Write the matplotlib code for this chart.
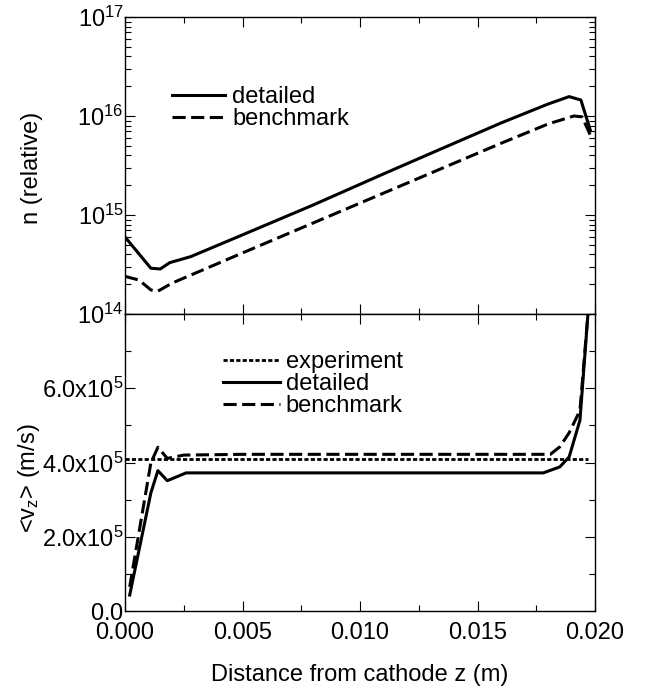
import matplotlib
matplotlib.use("Agg")
import matplotlib.pyplot as plt
from matplotlib.ticker import FixedLocator, NullFormatter, LogLocator, MultipleLocator

plt.rcParams['font.family'] = ['Liberation Sans', 'DejaVu Sans']
plt.rcParams['mathtext.fontset'] = 'custom'
plt.rcParams['mathtext.rm'] = 'Liberation Sans'
plt.rcParams['mathtext.it'] = 'Liberation Sans:italic'
plt.rcParams['mathtext.bf'] = 'Liberation Sans:bold'

# ---- top panel: density n (relative) ----
n_det_z = [0.0, 0.0011, 0.0015, 0.0019, 0.0028, 0.0050, 0.0080, 0.0110,
           0.0134, 0.0160, 0.0180, 0.0189, 0.0194, 0.0198]
n_det = [6.0e14, 2.9e14, 2.85e14, 3.3e14, 3.8e14, 6.3e14, 1.26e15, 2.6e15,
         4.6e15, 8.5e15, 1.32e16, 1.57e16, 1.45e16, 7.2e15]
n_bench_z = [0.0, 0.0006, 0.0011, 0.0014, 0.0020, 0.0048, 0.0134, 0.0160, 0.0180,
             0.0191, 0.01945, 0.01987]
n_bench = [2.4e14, 2.2e14, 1.75e14, 1.7e14, 2.05e14, 3.95e14, 2.9e15, 5.3e15, 8.3e15,
           1.0e16, 9.8e15, 5.9e15]

# ---- bottom panel: mean axial velocity <vz> ----
v_exp_z = [0.0, 0.0197]
v_exp = [4.1e5, 4.1e5]
v_det_z = [0.0002, 0.0011, 0.0014, 0.0018, 0.0026, 0.0050, 0.0100, 0.0150, 0.0178,
           0.0185, 0.0189, 0.01936, 0.0197]
v_det = [0.43e5, 3.18e5, 3.78e5, 3.51e5, 3.72e5, 3.72e5, 3.72e5, 3.72e5, 3.72e5,
         3.88e5, 4.15e5, 5.14e5, 8.0e5]
v_bench_z = [0.0002, 0.0011, 0.0014, 0.0018, 0.0025, 0.0050, 0.0100, 0.0150, 0.0181,
             0.0185, 0.0189, 0.01936, 0.0197]
v_bench = [0.65e5, 3.99e5, 4.41e5, 4.11e5, 4.2e5, 4.22e5, 4.22e5, 4.22e5, 4.22e5,
           4.42e5, 4.8e5, 5.4e5, 8.0e5]

x_ticks = [0.000, 0.005, 0.010, 0.015, 0.020]
x_labels = ['0.000', '0.005', '0.010', '0.015', '0.020']
n_ticks = [1e14, 1e15, 1e16, 1e17]
n_labels = [r'$\mathregular{10^{14}}$', r'$\mathregular{10^{15}}$',
            r'$\mathregular{10^{16}}$', r'$\mathregular{10^{17}}$']
v_ticks = [0.0, 2e5, 4e5, 6e5]
v_labels = [r'$\mathregular{0.0}$', r'$\mathregular{2.0x10^{5}}$',
            r'$\mathregular{4.0x10^{5}}$', r'$\mathregular{6.0x10^{5}}$']

W, H = 647, 691
fig = plt.figure(figsize=(W / 100, H / 100), dpi=100)
L, R = 125 / W, 595 / W
ax1 = fig.add_axes([L, 1 - 314 / H, R - L, (314 - 17) / H])
ax2 = fig.add_axes([L, 1 - 611 / H, R - L, (611 - 314) / H])

FS = 17
lw = 2.2

ax1.plot(n_det_z, n_det, color='black', lw=lw, solid_joinstyle='round', label='detailed')
ax1.plot(n_bench_z, n_bench, color='black', lw=lw, dashes=(4.3, 1.8), label='benchmark')
ax1.set_yscale('log')
ax1.set_ylim(1e14, 1e17)
ax1.set_xlim(0, 0.020)
ax1.yaxis.set_major_locator(FixedLocator(n_ticks))
ax1.set_yticklabels(n_labels)
ax1.yaxis.set_minor_locator(LogLocator(base=10, subs=range(2, 10), numticks=20))
ax1.yaxis.set_minor_formatter(NullFormatter())
ax1.set_xticks(x_ticks)
ax1.xaxis.set_minor_locator(MultipleLocator(0.0025))
ax1.tick_params(labelbottom=False)

ax2.plot(v_exp_z, v_exp, color='black', lw=2.0, dashes=(1.5, 0.8), label='experiment')
ax2.plot(v_det_z, v_det, color='black', lw=lw, label='detailed')
ax2.plot(v_bench_z, v_bench, color='black', lw=lw, dashes=(4.3, 1.8), label='benchmark')
ax2.set_ylim(0, 8e5)
ax2.set_xlim(0, 0.020)
ax2.set_yticks(v_ticks)
ax2.set_yticklabels(v_labels)
ax2.yaxis.set_minor_locator(MultipleLocator(1e5))
ax2.set_xticks(x_ticks)
ax2.set_xticklabels(x_labels)
ax2.xaxis.set_minor_locator(MultipleLocator(0.0025))

for ax in (ax1, ax2):
    for s in ax.spines.values():
        s.set_linewidth(1.0)
    ax.tick_params(which='both', direction='in', top=True, right=True, width=0.8,
                   labelsize=FS, pad=3)
    ax.tick_params(which='major', length=7.5)
    ax.tick_params(which='minor', length=4)
    ax.tick_params(axis='y', pad=1)
ax2.tick_params(axis='x', pad=8)

ax1.legend(loc='upper left', bbox_to_anchor=(172 / W, 1 - 86 / H), bbox_transform=fig.transFigure,
           frameon=False, fontsize=FS, handlelength=2.25, handletextpad=0.3,
           labelspacing=0.0, borderpad=0, borderaxespad=0)
ax2.legend(loc='upper left', bbox_to_anchor=(223 / W, 1 - 351 / H), bbox_transform=fig.transFigure,
           frameon=False, fontsize=FS, handlelength=2.4, handletextpad=0.25,
           labelspacing=0.0, borderpad=0, borderaxespad=0)

fig.text(32 / W, 1 - 168 / H, 'n (relative)', rotation=90, ha='center', va='center', fontsize=FS)
fig.text(29 / W, 1 - 478 / H, r'<$\mathregular{v_z}$> (m/s)', rotation=90, ha='center',
         va='center', fontsize=FS)
fig.text(360 / W, 1 - 675 / H, 'Distance from cathode z (m)', ha='center', va='center', fontsize=FS)

fig.savefig('out.png', dpi=100)
